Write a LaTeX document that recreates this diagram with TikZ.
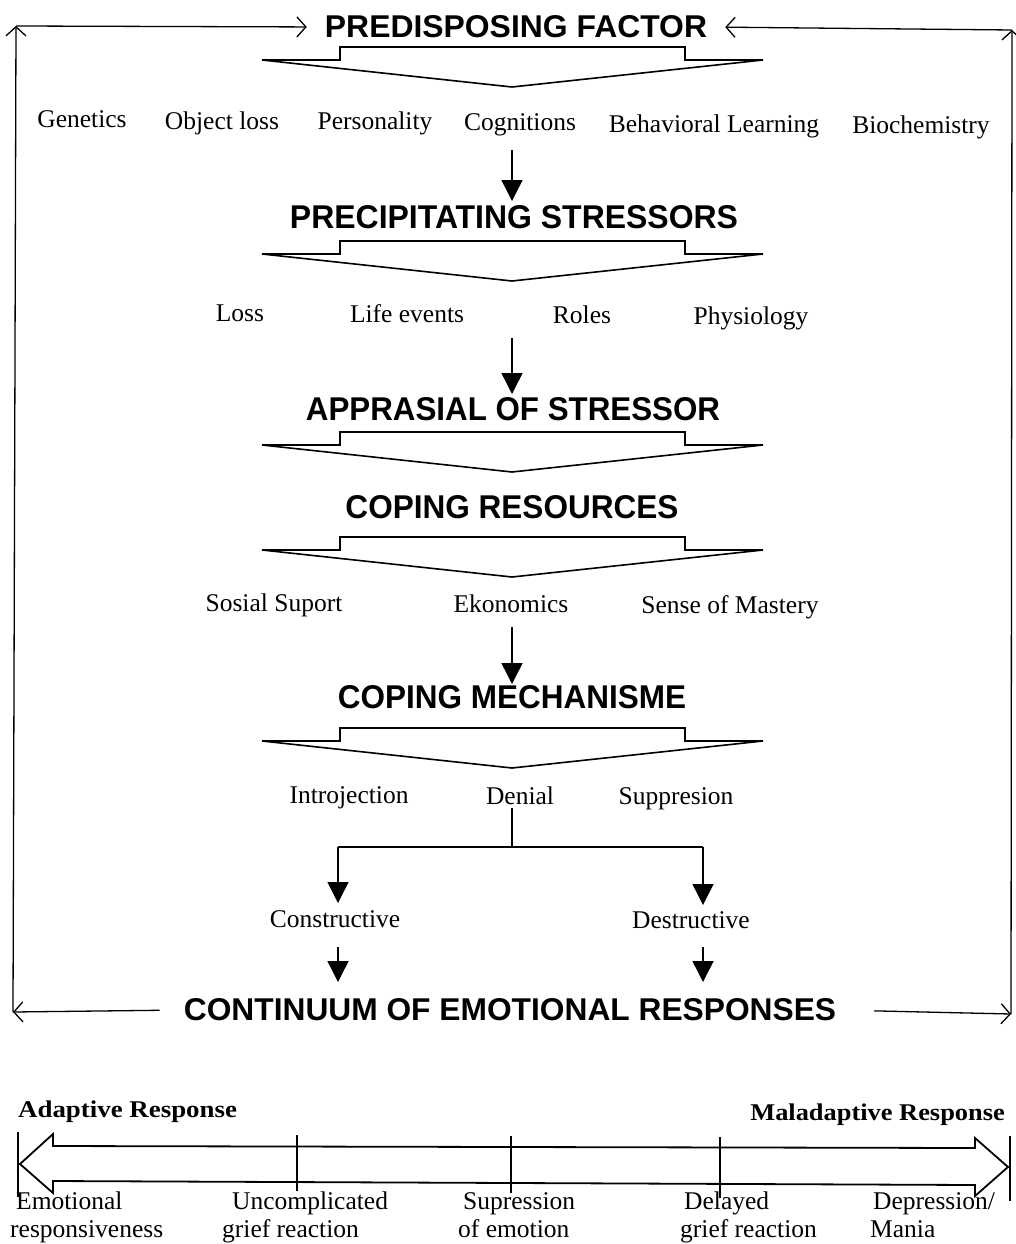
\documentclass[tikz,border=0pt]{standalone}
\usepackage{fontspec}
\setmainfont{Liberation Serif}
\setsansfont{Liberation Sans}
\usetikzlibrary{arrows.meta}
\newcommand{\ttl}[3]{\resizebox{#1pt}{#2pt}{\sffamily\bfseries #3}}
\begin{document}
\begin{tikzpicture}[x=1pt,y=-1pt,
  item/.style={anchor=base,inner sep=0pt,font=\fontsize{25.5}{28}\selectfont},
  lbl/.style={anchor=base west,inner sep=0pt,font=\fontsize{25.5}{28}\selectfont},
  head/.style={inner sep=0pt,font=\fontsize{24}{28}\selectfont\bfseries},
  ttlnode/.style={inner sep=0pt,anchor=center},
  chevron/.style={draw=black,line width=1.6pt,line join=miter,fill=white},
  farrow/.style={line width=1.4pt,-{Triangle[length=21pt,width=21pt]}},
  oarrow/.style={line width=1.3pt,-{Straight Barb[length=9pt,width=20pt,line width=1.3pt]}},
  frame/.style={line width=1.3pt}]
\useasboundingbox (0,0) rectangle (1016,1244);
\fill[white] (0,0) rectangle (1016,1244);

% titles
\node[ttlnode] (pred)  at (516,27)   {\ttl{382}{22}{PREDISPOSING FACTOR}};
\node[ttlnode] (prec)  at (514,217)  {\ttl{448}{23}{PRECIPITATING STRESSORS}};
\node[ttlnode] (appr)  at (513,409)  {\ttl{414}{23}{APPRASIAL OF STRESSOR}};
\node[ttlnode] (cres)  at (512,507)  {\ttl{333}{23}{COPING RESOURCES}};
\node[ttlnode] (cmech) at (512,697)  {\ttl{348}{23}{COPING MECHANISME}};
\node[ttlnode] (cont)  at (510,1010) {\ttl{652}{22}{CONTINUUM OF EMOTIONAL RESPONSES}};

% chevrons
\foreach \yy in {47,241,432,537,728}{
  \draw[chevron] (262,\yy+13) -- (340,\yy+13) -- (340,\yy) -- (685,\yy) -- (685,\yy+13)
     -- (763,\yy+13) -- (512,\yy+40) -- cycle;
}

% row 1
\node[item] (gen) at (82,128)  {Genetics};
\node[item] (obj) at (222,129) {Object loss};
\node[item] (per) at (375,130) {Personality};
\node[item] (cog) at (520,131) {Cognitions};
\node[item] (beh) at (714,132) {Behavioral Learning};
\node[item] (bio) at (921,133) {Biochemistry};
\coordinate (a1s) at (512,150);
\coordinate (a1e) at (512,201);
\draw[farrow] (a1s) -- (a1e);

% row 2
\node[item] (loss) at (240,321) {Loss};
\node[item] (life) at (407,322) {Life events};
\node[item] (rol)  at (582,323) {Roles};
\node[item] (phy)  at (751,324) {Physiology};
\coordinate (a2s) at (512,338);
\coordinate (a2e) at (512,394);
\draw[farrow] (a2s) -- (a2e);

% row 3
\node[item] (sos) at (274,611) {Sosial Suport};
\node[item] (eko) at (511,612) {Ekonomics};
\node[item] (sen) at (730,613) {Sense of Mastery};
\coordinate (a3s) at (512,627);
\coordinate (a3e) at (512,684);
\draw[farrow] (a3s) -- (a3e);

% row 4
\node[item] (intro) at (349,803) {Introjection};
\node[item] (den)   at (520,804) {Denial};
\node[item] (sup)   at (676,804) {Suppresion};
\coordinate (dj) at (512,847);
\coordinate (dl) at (338,847);
\coordinate (dr) at (703,847);
\coordinate (dlt) at (338,903);
\coordinate (drt) at (703,905);
\draw[line width=1.4pt] (512,808) -- (dj);
\draw[line width=1.4pt] (dl) -- (dr);
\draw[farrow] (dl) -- (dlt);
\draw[farrow] (dr) -- (drt);

\node[item] (cons) at (335,927) {Constructive};
\node[item] (dest) at (691,928) {Destructive};
\coordinate (c1s) at (338,947);
\coordinate (c1e) at (338,982);
\coordinate (d1s) at (703,947);
\coordinate (d1e) at (703,982);
\draw[farrow] (c1s) -- (c1e);
\draw[farrow] (d1s) -- (d1e);

% feedback frame
\coordinate (TL) at (16,26);
\coordinate (BL) at (13,1012);
\coordinate (TR) at (1012,30);
\coordinate (BR) at (1011,1014);
\draw[oarrow,shorten <=24pt] (cont.west) -- (BL);
\draw[oarrow] (BL) -- (TL);
\draw[oarrow,shorten >=18pt] (TL) -- (pred.west);
\draw[oarrow,shorten <=38pt] (cont.east) -- (BR);
\draw[oarrow] (BR) -- (TR);
\draw[oarrow,shorten >=18pt] (TR) -- (pred.east);

% continuum scale
\node[head,anchor=base west] (adap) at (18,1117) {\scalebox{1.12}[1]{Adaptive Response}};
\node[head,anchor=base east] (mal) at (1005,1120) {\scalebox{1.1}[1]{Maladaptive Response}};
\draw[line width=1.8pt,line join=miter,fill=white]
  (20,1164) -- (53,1134) -- (53,1146) -- (975,1148) -- (975,1138) -- (1008,1167)
  -- (975,1196) -- (975,1185) -- (53,1181) -- (53,1193) -- cycle;
\draw[line width=1.4pt] (18,1132) -- (18,1197);
\draw[line width=1.4pt] (1010,1136) -- (1010,1201);
\draw[line width=1.4pt] (297,1135) -- (297,1191);
\draw[line width=1.4pt] (511,1136) -- (511,1193);
\draw[line width=1.4pt] (720,1137) -- (720,1198);

\node[lbl] (e1) at (16,1209)  {Emotional};
\node[lbl] (e2) at (10,1237)  {responsiveness};
\node[lbl] (u1) at (232,1209) {Uncomplicated};
\node[lbl] (u2) at (222,1237) {grief reaction};
\node[lbl] (s1) at (463,1209) {Supression};
\node[lbl] (s2) at (458,1237) {of emotion};
\node[lbl] (l1) at (684,1209) {Delayed};
\node[lbl] (l2) at (680,1237) {grief reaction};
\node[lbl] (m1) at (873,1209) {Depression/};
\node[lbl] (m2) at (870,1237) {Mania};
\end{tikzpicture}
\end{document}
